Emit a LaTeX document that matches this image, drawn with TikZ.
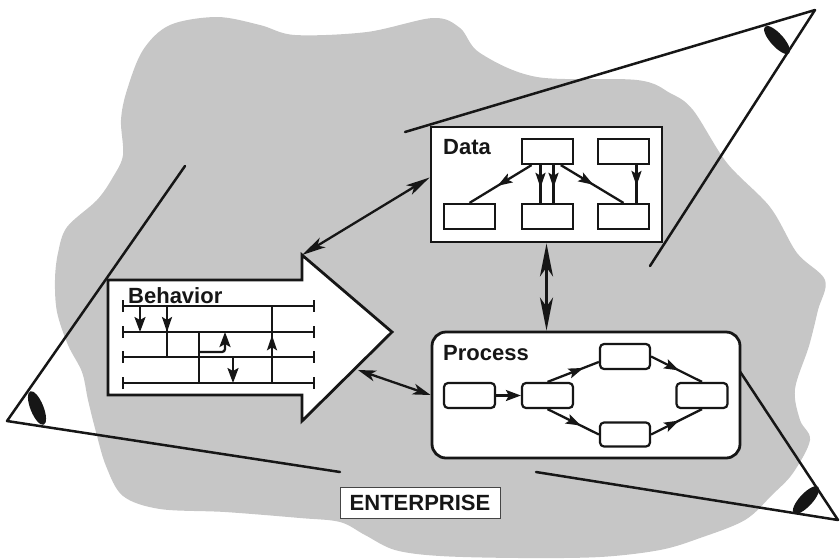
\documentclass[tikz,border=0pt]{standalone}
\usepackage{fontspec}
\setmainfont{Liberation Sans}
\usetikzlibrary{arrows.meta,decorations.markings,calc}

\definecolor{blobgray}{RGB}{198,198,198}
\definecolor{ink}{RGB}{22,22,22}

\tikzset{
  lbl/.style={font=\bfseries\fontsize{22}{26}\selectfont, inner sep=0pt, text=ink},
  panel/.style={draw=ink, fill=white, line width=2.8pt, inner sep=0pt},
  sbox/.style={draw=ink, fill=white, line width=2.2pt, minimum width=51pt, minimum height=25pt, inner sep=0pt},
  rbox/.style={sbox, rounded corners=4pt},
  flow/.style={draw=ink, line width=2.3pt},
  endtip/.style={arrows={-Stealth[length=15pt,width=11pt,inset=3pt]}},
  midarrow/.style={postaction={decorate, decoration={markings,
      mark=at position #1 with {\arrow{Stealth[length=15pt,width=10pt,inset=3pt]}}}}},
  timeline/.style={draw=ink, line width=2pt, arrows={Bar[width=12pt]-Bar[width=12pt]}},
  cone/.style={draw=ink, line width=2.5pt, line cap=round, line join=round},
  lens/.style={fill=ink},
  link/.style={draw=ink, line width=2.3pt,
      arrows={Stealth[length=24pt,width=11pt,inset=6pt]-Stealth[length=24pt,width=11pt,inset=6pt]}},
  biglink/.style={draw=ink, line width=3.2pt,
      arrows={Stealth[length=33pt,width=13pt,inset=9pt]-Stealth[length=33pt,width=13pt,inset=9pt]}},
}

\begin{document}
\begin{tikzpicture}[x=1pt,y=-1pt]
\useasboundingbox (0,0) rectangle (840,558);

% the enterprise region
\fill[blobgray] plot[smooth cycle, tension=0.55] coordinates {
  (127,90) (143,50) (170,25) (217,17) (260,25) (295,35) (367,32) (433,18)
  (460,28) (480,53) (537,77) (637,80) (670,93) (693,110) (727,163) (770,207)
  (797,253) (825,280) (818,310) (809,346) (795,389) (800,420) (810,440)
  (793,473) (772,495) (745,520) (700,538) (660,550) (600,557) (520,558)
  (440,556) (395,550) (365,535) (340,522) (300,518) (225,512) (160,509)
  (123,496) (106,466) (96,432) (88,400) (82,372) (68,345) (57,312)
  (55,280) (58,253) (67,227) (97,200) (113,177) (123,155) (121,120)};

% viewing cones with their lenses
\coordinate (lapex) at (7,421);
\coordinate (tapex) at (815,10);
\coordinate (rapex) at (838,520);
\draw[cone] (185,166) -- (lapex) -- (340,472);
\draw[cone] (405,132) -- (tapex) -- (650,266);
\draw[cone] (739,370) -- (rapex) -- (536,472);
\fill[lens, rotate around={-68:(37,408)}] (37,408) ellipse [x radius=18pt, y radius=6.5pt];
\fill[lens, rotate around={-48:(777,40)}] (777,40) ellipse [x radius=18pt, y radius=6.5pt];
\fill[lens, rotate around={47:(806,500)}] (806,500) ellipse [x radius=18pt, y radius=6.5pt];

% Behavior: block arrow with timelines
\draw[ink, fill=white, line width=2.8pt, line join=miter]
  (108,280) -- (302,280) -- (302,255) -- (392,332) -- (302,421) -- (302,395) -- (108,395) -- cycle;
\coordinate (bhtop) at (302,255);
\coordinate (bhlow) at (358,370);
\node[lbl, anchor=base west] (behavior) at (128,303) {Behavior};
\foreach \ly in {306,332,357,383} {
  \draw[timeline] (122,\ly) -- (315,\ly);
}
\draw[flow, endtip] (140,306) -- (140,332);
\draw[flow, midarrow=0.51] (167,306) -- (167,357);
\draw[flow] (199,332) -- (199,383);
\draw[flow, endtip, rounded corners=3pt] (199,352) -- (225,352) -- (225,332);
\draw[flow, endtip] (233,357) -- (233,383);
\draw[flow, midarrow=0.62] (272,383) -- (272,306);

% Data panel
\node[panel, minimum width=231pt, minimum height=115pt] (data) at (546.5,184.5) {};
\node[lbl, anchor=base west] (datalbl) at (443,154) {Data};
\node[sbox] (dtm) at (547.5,151.5) {};
\node[sbox] (dtr) at (623.5,151.5) {};
\node[sbox] (dbl) at (469.5,216.5) {};
\node[sbox] (dbm) at (547.5,216.5) {};
\node[sbox] (dbr) at (623.5,216.5) {};
\draw[flow, midarrow=0.55] ($(dtm.south west)!0.2!(dtm.south east)$) -- (dbl.north);
\draw[flow, midarrow=0.6] ([xshift=-7pt]dtm.south) -- ([xshift=-7pt]dbm.north);
\draw[flow, midarrow=0.6] ([xshift=6pt]dtm.south) -- ([xshift=6pt]dbm.north);
\draw[flow, midarrow=0.52] ($(dtm.south west)!0.75!(dtm.south east)$) -- (dbr.north);
\draw[flow, midarrow=0.55] ([xshift=13pt]dtr.south) -- ([xshift=13pt]dbr.north);

% Process panel
\node[panel, rounded corners=14pt, minimum width=308pt, minimum height=126pt] (process) at (586,395) {};
\node[lbl, anchor=base west] (proclbl) at (443,360) {Process};
\node[rbox] (pa) at (469.5,395.5) {};
\node[rbox] (pb) at (547.5,395.5) {};
\node[rbox, minimum width=50pt] (pc) at (625,356.5) {};
\node[rbox, minimum width=50pt, minimum height=24pt] (pd) at (625,434.5) {};
\node[rbox] (pe) at (702,395.5) {};
\draw[flow, endtip] (pa.east) -- (pb.west);
\draw[flow, midarrow=0.7] (pb.north) -- ($(pc.west)!0.4!(pc.south west)$);
\draw[flow, midarrow=0.55] (pc.east) -- (pe.north);
\draw[flow, midarrow=0.65] (pb.south) -- (pd.west);
\draw[flow, midarrow=0.55] (pd.east) -- (pe.south);

% links between the views
\draw[link] ([yshift=7pt]data.west) -- (bhtop);
\draw[biglink] (data.south) -- (data.south |- process.north);
\draw[link, arrows={Stealth[length=18pt,width=11pt,inset=5pt]-Stealth[length=18pt,width=11pt,inset=5pt]}] (bhlow) -- (process.west);

% enterprise label
\node[lbl, draw=ink!80, line width=1pt, fill=white, minimum width=160pt, minimum height=31pt] (enterprise) at (420,502.5) {ENTERPRISE};
\end{tikzpicture}
\end{document}
